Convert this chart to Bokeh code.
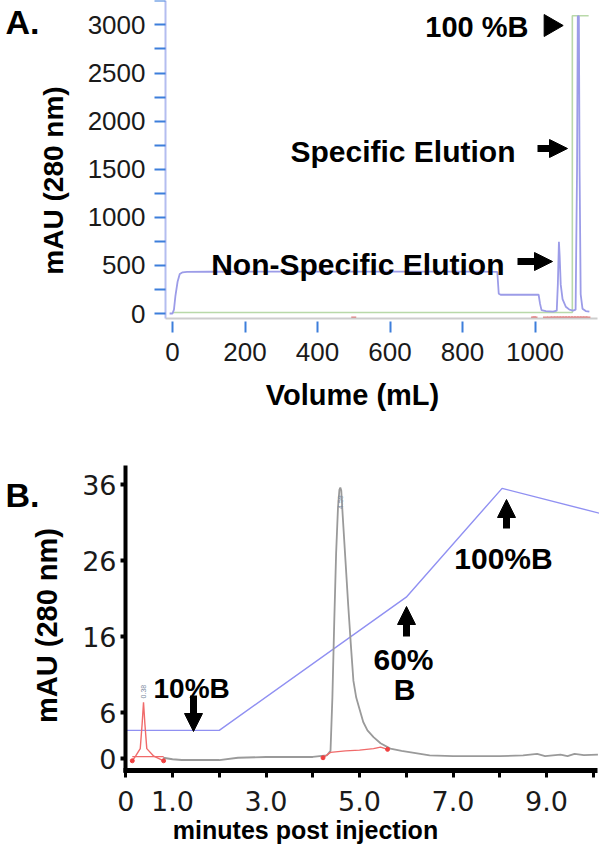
import numpy as np
from math import pi
from bokeh.plotting import figure
from bokeh.layouts import column
from bokeh.models import Range1d, FixedTicker, Label, Arrow, NormalHead
from bokeh.embed import file_html
from bokeh.resources import INLINE
from bokeh.core.properties import value

# ---------------- Panel A data (preparative run) ----------------
vol_uv = [-8, 0, 4, 8, 14, 20, 28, 40, 100, 300, 500, 700, 850, 896, 900, 905, 950, 1010,
          1014, 1018, 1030, 1050, 1060, 1063, 1066, 1068, 1071, 1076, 1085, 1095, 1105,
          1112, 1116, 1118, 1121, 1123, 1126, 1131, 1140, 1150]
mau_uv = [0, 0, 40, 180, 330, 410, 428, 432, 434, 435, 435, 435, 435, 432, 205, 195, 195, 195,
          100, 35, 25, 20, 30, 300, 745, 600, 300, 150, 70, 40, 30,
          40, 1500, 3090, 3090, 1500, 200, 50, 25, 20]
vol_pctb = [0, 1103, 1103, 1148]
pctb_scaled = [10, 10, 3095, 3095]
frac_vols = [500, 996, 1000, 1029, 1041, 1050, 1058, 1066, 1074, 1082, 1090, 1098, 1106,
             1114, 1122, 1130, 1138, 1146]
frac_level = [-40] * len(frac_vols)
a_yticks = [0, 500, 1000, 1500, 2000, 2500, 3000]
a_yminor = [250, 750, 1250, 1750, 2250, 2750, 3250]
a_xticks = [0, 200, 400, 600, 800, 1000]

# ---------------- Panel B data (analytical run) ----------------
t_grad = [0, 2.0, 6.0, 8.05, 10.15]
grad = [3.7, 3.7, 21.2, 35.5, 32.2]
t_gray = [0.8, 1.0, 1.2, 2.0, 2.4, 3.0, 4.0, 4.3, 4.38, 4.42, 4.46, 4.50, 4.54, 4.57, 4.59,
          4.61, 4.64, 4.70, 4.76, 4.82, 4.87, 4.93, 5.0, 5.08, 5.17, 5.3, 5.45, 5.66, 5.9,
          6.1, 6.5, 7.0, 7.5, 8.0, 8.5, 8.8, 8.97, 9.3, 9.45, 9.6, 9.8, 10.1]
a_gray = [0.1, -0.1, -0.2, -0.2, 0.1, 0.2, 0.2, 0.4, 1.0, 8, 18, 27, 33, 35.3, 35.6,
          35.2, 32, 26, 20, 14.5, 10.2, 8, 6.5, 4.8, 3.7, 2.8, 2.0, 1.3, 1.0,
          0.8, 0.4, 0.3, 0.3, 0.3, 0.4, 0.6, 0.3, 0.5, 0.3, 0.6, 0.45, 0.5]
t_red = [0.14, 0.22, 0.31, 0.35, 0.38, 0.41, 0.45, 0.6, 0.81]
a_red = [-0.3, 0.4, 1.3, 4.5, 7.4, 4.5, 1.3, 0.3, -0.3]
t_red_base = [0.14, 0.81]
a_red_base = [0.25, 0.25]
t_red2 = [4.22, 4.38, 4.7, 5.0, 5.3, 5.45, 5.6]
a_red2 = [0.1, 0.8, 1.0, 1.1, 1.3, 1.5, 1.2]
t_red_pts = [0.14, 0.81, 4.22, 5.6]
a_red_pts = [-0.3, -0.3, 0.1, 1.2]
peak_t = [0.38, 4.59]
peak_a = [7.9, 32.8]
peak_txt = ["0.38", "4.59"]
b_yticks = [0, 6, 16, 26, 36]
b_xticks = [0, 1, 3, 5, 7, 9]
b_xlabels = ["0", "1.0", "3.0", "5.0", "7.0", "9.0"]
b_xminor = [2, 4, 6, 8, 10]

FONT = "Liberation Sans"
W = 599
HA = 420
HB = 430


# reference-pixel -> data helpers (positions of annotations and plot frames)
def ax(rx):
    return (rx - 172) / 0.3625


def ay(ry):
    return (313 - ry) / 0.0962


def bx(rx):
    return (rx - 125.25) / 46.75


def by(ry):
    return (758 - ry) / 7.61


def lab(p, x, y, text, size, align="left", angle=0):
    p.add_layout(Label(x=x, y=y, text=text, text_font=FONT, text_font_size=size,
                       text_font_style="bold", text_align=align, text_baseline="middle",
                       angle=angle, text_color="black"))


def arrow(p, x0, y0, x1, y1):
    p.add_layout(Arrow(x_start=x0, y_start=y0, x_end=x1, y_end=y1,
                       line_width=7, line_color="black",
                       end=NormalHead(size=18, fill_color="black", line_color="black")))


# ---------------- Figure A ----------------
pa = figure(width=W, height=HA, output_backend="svg", toolbar_location=None,
            x_range=Range1d(ax(0), ax(W)), y_range=Range1d(ay(HA), ay(0)),
            min_border=0)
pa.outline_line_color = None
pa.grid.visible = False

pa.line(vol_pctb, pctb_scaled, line_color="#b9d9a9", line_width=1.6)
pa.line(vol_uv, mau_uv, line_color="#9c9ce8", line_width=1.8)
pa.scatter(frac_vols, frac_level, marker="dash", size=5, line_color="#e06060", line_width=1.5)

ya = pa.yaxis[0]
ya.fixed_location = ax(165)
ya.bounds = (ay(318), ay(0))
ya.ticker = FixedTicker(ticks=a_yticks, minor_ticks=a_yminor)
ya.axis_line_color = "#b4bdf0"
ya.axis_line_width = 2
ya.major_tick_line_color = "#3d7edb"
ya.minor_tick_line_color = "#3d7edb"
ya.major_tick_line_width = 2
ya.minor_tick_line_width = 2
ya.major_tick_out = 11
ya.minor_tick_out = 11
ya.major_tick_in = 0
ya.minor_tick_in = 0
ya.major_label_text_font = FONT
ya.major_label_text_font_size = "26px"
ya.major_label_text_color = "#1a1a1a"
ya.major_label_standoff = 9

xa = pa.xaxis[0]
xa.fixed_location = ay(318)
xa.bounds = (ax(165), ax(597))
xa.ticker = FixedTicker(ticks=a_xticks, minor_ticks=[])
xa.axis_line_color = "#cdcdcd"
xa.axis_line_width = 2
xa.major_tick_line_color = "#3d7edb"
xa.major_tick_line_width = 2
xa.major_tick_in = -3
xa.major_tick_out = 14
xa.major_label_text_font = FONT
xa.major_label_text_font_size = "26px"
xa.major_label_text_color = "#1a1a1a"
xa.major_label_standoff = 10

lab(pa, ax(5), ay(21), "A.", "34px")
lab(pa, ax(53), ay(180), "mAU (280 nm)", "28px", align="center", angle=pi / 2)
lab(pa, ax(352), ay(394), "Volume (mL)", "29px", align="center")
lab(pa, ax(528), ay(26), "100 %B", "29px", align="right")
lab(pa, ax(515), ay(151), "Specific Elution", "30px", align="right")
lab(pa, ax(504), ay(264), "Non-Specific Elution", "30px", align="right")

pa.scatter([ax(550)], [ay(25)], marker="triangle", size=22, angle=-pi / 2,
           fill_color="black", line_color="black")
arrow(pa, ax(537), ay(148), ax(567), ay(148))
arrow(pa, ax(517), ay(261), ax(552), ay(261))

# ---------------- Figure B ----------------
pb = figure(width=W, height=HB, output_backend="svg", toolbar_location=None,
            x_range=Range1d(bx(0), bx(W)), y_range=Range1d(by(420 + HB), by(420)),
            min_border=0)
pb.outline_line_color = None
pb.grid.visible = False

pb.line(t_grad, grad, line_color="#9090f2", line_width=1.4)
pb.line(t_gray, a_gray, line_color="#9a9a9a", line_width=1.8)
pb.line(t_red, a_red, line_color="#f06a6a", line_width=1.4)
pb.line(t_red_base, a_red_base, line_color="#f06a6a", line_width=1.4)
pb.line(t_red2, a_red2, line_color="#f06a6a", line_width=1.4)
pb.scatter(t_red_pts, a_red_pts, size=4, color="#f04040")
pb.text(peak_t, peak_a, text=peak_txt, angle=pi / 2, text_font=value(FONT),
        text_font_size="7px", text_color="#7a8aa0", text_align="left", text_baseline="middle")

yb = pb.yaxis[0]
yb.fixed_location = bx(125)
yb.bounds = (by(772), by(465))
yb.ticker = FixedTicker(ticks=b_yticks, minor_ticks=[])
yb.axis_line_color = "black"
yb.axis_line_width = 4
yb.major_tick_line_color = "black"
yb.major_tick_line_width = 4
yb.major_tick_out = 5
yb.major_tick_in = 0
yb.major_label_text_font = "DejaVu Sans"
yb.major_label_text_font_size = "27px"
yb.major_label_text_color = "#1a1a1a"
yb.major_label_standoff = 4

xb = pb.xaxis[0]
xb.fixed_location = by(770)
xb.bounds = (bx(123), bx(597))
xb.ticker = FixedTicker(ticks=b_xticks, minor_ticks=b_xminor)
xb.major_label_overrides = {k: v for k, v in zip(b_xticks, b_xlabels)}
xb.axis_line_color = "black"
xb.axis_line_width = 5
xb.major_tick_line_color = "black"
xb.minor_tick_line_color = "black"
xb.major_tick_line_width = 3
xb.minor_tick_line_width = 3
xb.major_tick_out = 7
xb.minor_tick_out = 7
xb.major_tick_in = 0
xb.minor_tick_in = 0
xb.major_label_text_font = "DejaVu Sans"
xb.major_label_text_font_size = "27px"
xb.major_label_text_color = "#1a1a1a"
xb.major_label_standoff = 13

lab(pb, bx(5), by(494), "B.", "34px")
lab(pb, bx(46), by(625), "mAU (280 nm)", "29px", align="center", angle=pi / 2)
lab(pb, bx(305), by(829), "minutes post injection", "25px", align="center")
lab(pb, bx(153), by(688), "10%B", "28px")
lab(pb, bx(403), by(659), "60%", "30px", align="center")
lab(pb, bx(404), by(689), "B", "30px", align="center")
lab(pb, bx(503), by(558), "100%B", "30px", align="center")

arrow(pb, bx(193), by(695), bx(193), by(731))
arrow(pb, bx(406), by(636), bx(406), by(606))
arrow(pb, bx(506), by(528), bx(506), by(499))

layout = column(pa, pb, spacing=0)
open("out.html", "w").write(file_html(layout, INLINE))
